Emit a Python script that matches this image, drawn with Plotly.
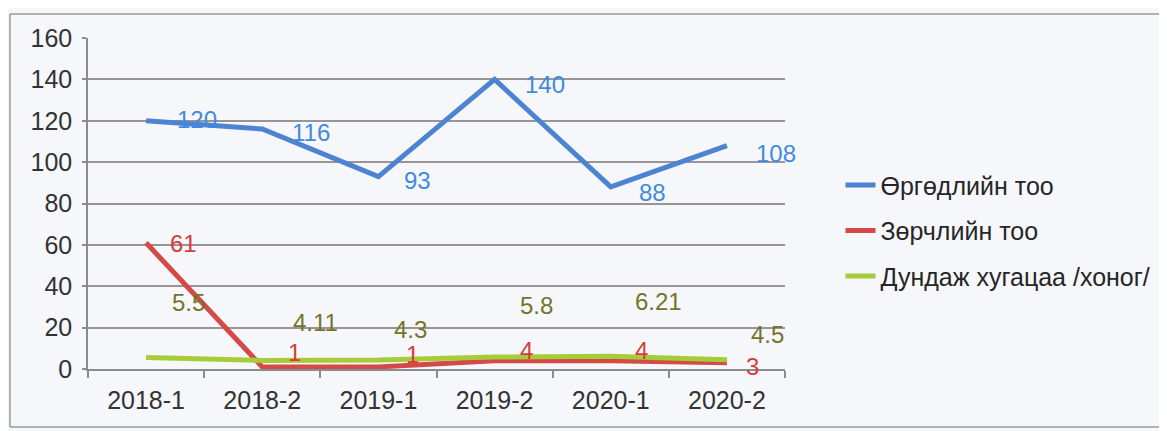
import plotly.graph_objects as go

categories = ["2018-1", "2018-2", "2019-1", "2019-2", "2020-1", "2020-2"]
applications = [120, 116, 93, 140, 88, 108]      # Өргөдлийн тоо
violations = [61, 1, 1, 4, 4, 3]                 # Зөрчлийн тоо
avg_days = [5.5, 4.11, 4.3, 5.8, 6.21, 4.5]      # Дундаж хугацаа /хоног/

series_names = ["Өргөдлийн тоо", "Зөрчлийн тоо", "Дундаж хугацаа /хоног/"]
line_colors = ["#4d84d2", "#d34a46", "#a6cc3a"]
label_colors = ["#3f8ae0", "#d63c3c", "#74742a"]

# label placement offsets (pixels), as in the source picture
label_xshift = [[30, 29, 25, 29, 27, 28],
                [23, 25, 27, 24, 23, 18],
                [25, 30, 15, 24, 23, 23]]
label_yshift = [[1, -3, -4, -5, -6, -8],
                [-1, 14, 12, 10, 10, -4],
                [55, 38, 31, 52, 55, 25]]

FONT = "Arial, Liberation Sans, sans-serif"

fig = go.Figure()
all_values = [applications, violations, avg_days]
for name, vals, col in zip(series_names, all_values, line_colors):
    fig.add_trace(go.Scatter(
        x=categories, y=vals, mode="lines", name=name,
        line=dict(color=col, width=5), legendgroup=name,
    ))

annotations = []
for s, vals in enumerate(all_values):
    for i, (c, v) in enumerate(zip(categories, vals)):
        annotations.append(dict(
            x=c, y=v, xref="x", yref="y", text=str(v), showarrow=False,
            xanchor="left", yanchor="middle", borderpad=0,
            xshift=label_xshift[s][i], yshift=label_yshift[s][i],
            font=dict(family=FONT, size=24, color=label_colors[s]),
        ))

border = dict(color="#9a9a9a", width=1.5)
fig.update_layout(
    width=1159, height=423,
    margin=dict(l=80, r=382, t=30, b=62),
    paper_bgcolor="#f6f7fa", plot_bgcolor="#f6f7fa",
    font=dict(family=FONT, size=25, color="#333333"),
    showlegend=True,
    legend=dict(
        x=1.0796, y=0.625, xanchor="left", yanchor="top",
        font=dict(family=FONT, size=25, color="#262626"),
        bgcolor="rgba(0,0,0,0)", tracegroupgap=10, traceorder="grouped",
    ),
    annotations=annotations,
    shapes=[
        dict(type="line", xref="paper", yref="paper", x0=-0.112, x1=1.6, y0=1.0725, y1=1.0725, line=border),
        dict(type="line", xref="paper", yref="paper", x0=-0.112, x1=-0.112, y0=1.0725, y1=-0.175, line=border),
        dict(type="line", xref="paper", yref="paper", x0=-0.112, x1=1.6, y0=-0.175, y1=-0.175, line=border),
    ],
)

fig.update_xaxes(
    type="category", categoryorder="array", categoryarray=categories,
    range=[-0.5, 5.5], showgrid=False,
    showline=True, linecolor="#8c8c8c", linewidth=1.5,
    ticks="outside", tickson="boundaries", ticklen=7, tickcolor="#8c8c8c", tickwidth=1.5,
    tickfont=dict(family=FONT, size=25, color="#333333"),
    ticklabelstandoff=8,
)
fig.update_yaxes(
    range=[0, 160], dtick=20, showgrid=True, gridcolor="#9b9496", gridwidth=1.5,
    zeroline=False,
    showline=True, linecolor="#8c8c8c", linewidth=1.5,
    ticks="outside", ticklen=4, tickcolor="#8c8c8c", tickwidth=1.5,
    tickfont=dict(family=FONT, size=25, color="#333333"),
    ticklabelstandoff=5,
)

fig.write_html("out.html")
